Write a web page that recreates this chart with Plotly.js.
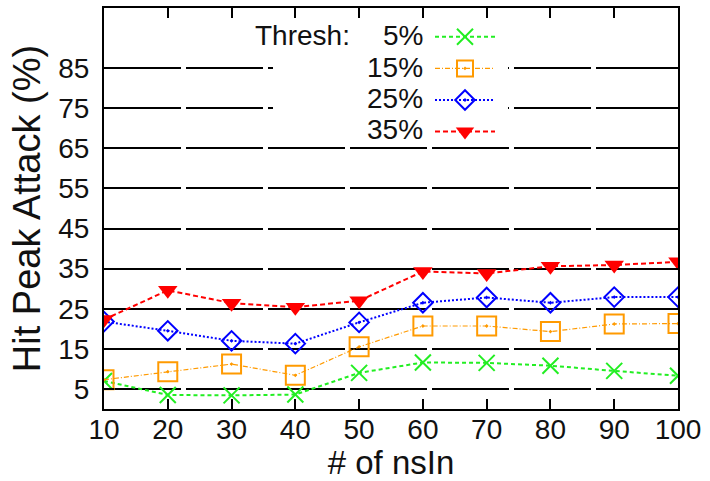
<!DOCTYPE html>
<html>
<head>
<meta charset="utf-8">
<script src="https://cdn.plot.ly/plotly-3.0.1.min.js"></script>
<style>html,body{margin:0;padding:0;background:#fff}#chart{width:710px;height:481px}</style>
</head>
<body>
<div id="chart"></div>
<script>
var nsIn = [10, 20, 30, 40, 50, 60, 70, 80, 90, 100];
var thresh5  = [7.0, 3.5, 3.4, 3.6, 9.0, 11.6, 11.5, 10.8, 9.5, 8.3];
var thresh15 = [7.3, 9.3, 11.2, 8.4, 15.5, 20.7, 20.7, 19.3, 21.2, 21.3];
var thresh25 = [21.8, 19.5, 17.0, 16.3, 21.6, 26.5, 27.8, 26.5, 27.9, 27.9];
var thresh35 = [22.3, 29.6, 26.4, 25.4, 27.0, 34.3, 33.8, 35.6, 35.9, 36.7];
var seriesLabels = ['5%', '15%', '25%', '35%'];
var legendHeading = 'Thresh:';
var yTicks = [5, 15, 25, 35, 45, 55, 65, 75, 85];

var FONT = 'Liberation Sans, Arial, sans-serif';
var traces = [
  {x: nsIn, y: thresh5, name: '', meta: seriesLabels[0], mode: 'lines+markers',
   line: {color: '#22ee22', width: 2, dash: '4px,3px'},
   marker: {symbol: 'x-thin-open', size: 16, color: '#22ee22', line: {width: 2, color: '#22ee22'}}},
  {x: nsIn, y: thresh15, name: '', meta: seriesLabels[1], mode: 'lines+markers',
   line: {color: '#ff9a00', width: 1.2, dash: '5px,2px,1px,2px'},
   marker: {symbol: 'square-open-dot', size: 19, color: '#ff9a00', line: {width: 2, color: '#ff9a00'}}},
  {x: nsIn, y: thresh25, name: '', meta: seriesLabels[2], mode: 'lines+markers',
   line: {color: '#0000ff', width: 2, dash: '2px,2px'},
   marker: {symbol: 'diamond-open-dot', size: 15, color: '#0000ff', line: {width: 2, color: '#0000ff'}}},
  {x: nsIn, y: thresh35, name: '', meta: seriesLabels[3], mode: 'lines+markers',
   line: {color: '#ff0000', width: 2, dash: '5px,3px'},
   marker: {symbol: 'triangle-down', size: 17, color: '#ff0000', line: {width: 0}}}
];

var L = 104, R = 678, T = 8, B = 409;
function px(x){ return (x - L) / (R - L); }
function py(y){ return (B - y) / (B - T); }

var rowY = [36, 67, 98, 129];
var annotations = [{
  text: legendHeading, xref: 'paper', yref: 'paper', x: px(352), y: py(rowY[0]),
  xanchor: 'right', yanchor: 'middle', showarrow: false, font: {family: FONT, size: 28, color: '#111'}
}];
seriesLabels.forEach(function(s, i){
  annotations.push({text: s, xref: 'paper', yref: 'paper', x: px(425), y: py(rowY[i]),
    xanchor: 'right', yanchor: 'middle', showarrow: false, font: {family: FONT, size: 28, color: '#111'}});
});

var layout = {
  width: 710, height: 481,
  margin: {l: L, r: 710 - R, t: T, b: 481 - B, pad: 0},
  paper_bgcolor: '#fff', plot_bgcolor: '#fff',
  font: {family: FONT, size: 28, color: '#111'},
  showlegend: true,
  legend: {x: px(430), y: py(16), xanchor: 'left', yanchor: 'top', bgcolor: 'rgba(255,255,255,0)',
           borderwidth: 0, font: {size: 22}, itemwidth: 60, tracegroupgap: 0},
  xaxis: {range: [10, 100], tickvals: nsIn, ticks: 'inside', ticklen: 10, tickwidth: 2, tickcolor: '#000',
          showline: true, linewidth: 2, linecolor: '#000', mirror: 'ticks', showgrid: false, zeroline: false,
          tickfont: {size: 28}, ticklabelstandoff: -6,
          title: {text: '# of nsIn', font: {size: 33}, standoff: 0}},
  yaxis: {range: [0, 100], tickvals: yTicks, ticks: 'inside', ticklen: 10, tickwidth: 2, tickcolor: '#000',
          showline: true, linewidth: 2, linecolor: '#000', mirror: 'ticks', showgrid: true,
          gridcolor: '#000', gridwidth: 2, griddash: '77px,5px', zeroline: false,
          tickfont: {size: 28}, ticklabelstandoff: 7,
          title: {text: 'Hit Peak Attack (%)', font: {size: 38}, standoff: 6}},
  shapes: [{type: 'rect', xref: 'paper', yref: 'paper', layer: 'above',
            x0: px(273), x1: px(508), y0: py(145), y1: py(18),
            fillcolor: '#fff', line: {width: 0}}],
  annotations: annotations
};

Plotly.newPlot('chart', traces, layout, {staticPlot: true, displayModeBar: false});
</script>
</body>
</html>
